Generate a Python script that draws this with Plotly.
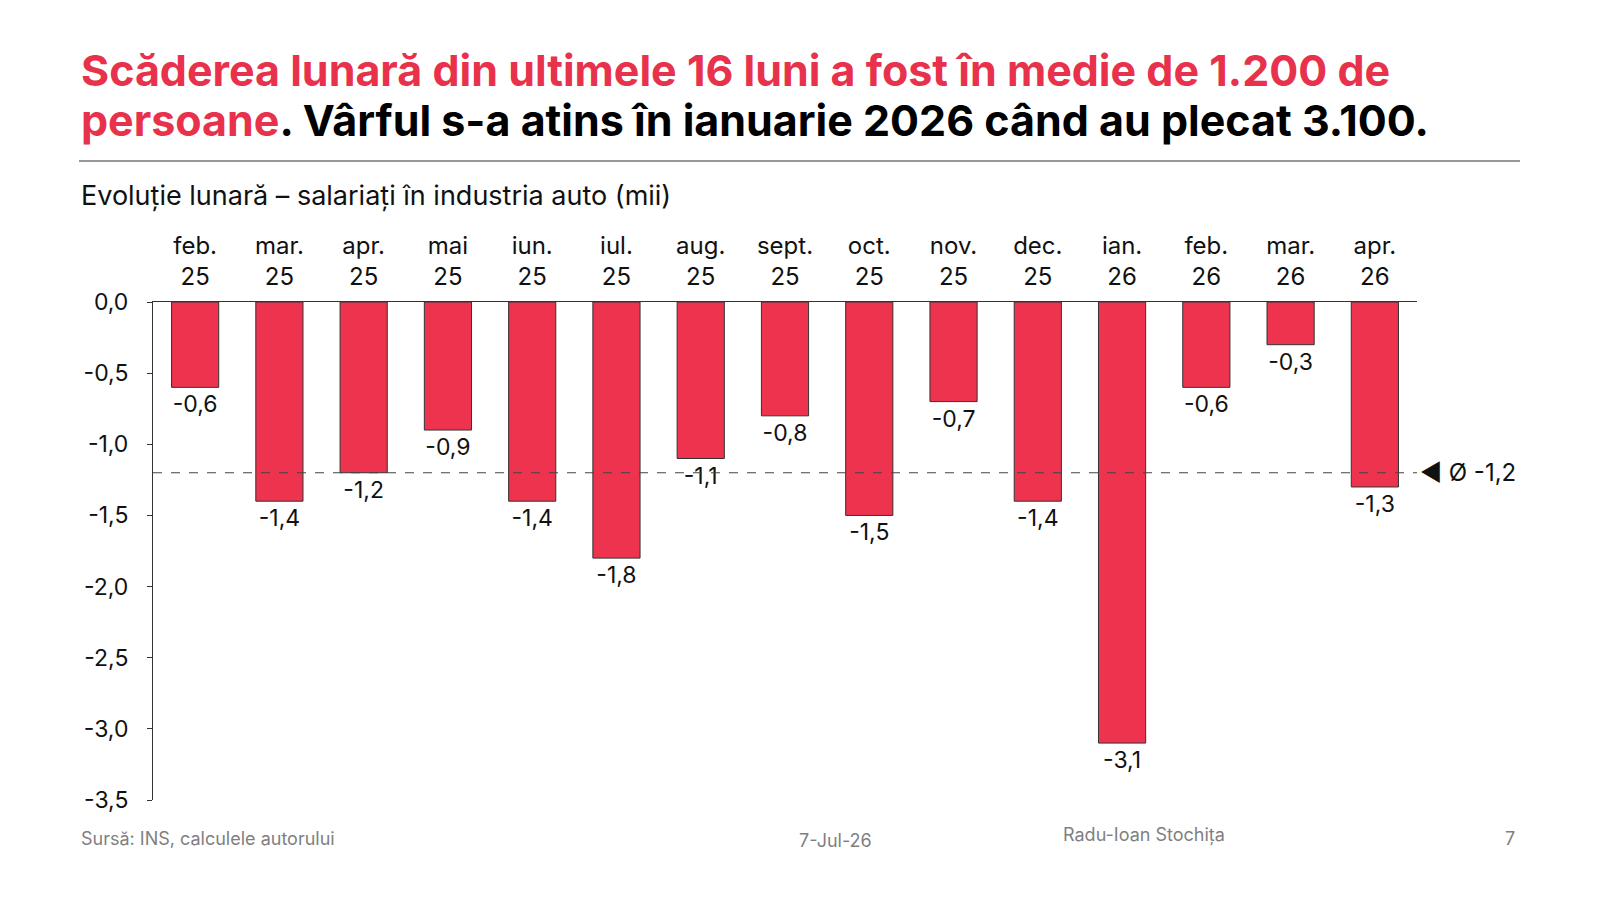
import plotly.graph_objects as go

# monthly change, auto industry employees (thousands)
months = ["feb.<br>25", "mar.<br>25", "apr.<br>25", "mai<br>25", "iun.<br>25", "iul.<br>25",
          "aug.<br>25", "sept.<br>25", "oct.<br>25", "nov.<br>25", "dec.<br>25", "ian.<br>26",
          "feb.<br>26", "mar.<br>26", "apr.<br>26"]
change = [-0.6, -1.4, -1.2, -0.9, -1.4, -1.8, -1.1, -0.8, -1.5, -0.7, -1.4, -3.1, -0.6, -0.3, -1.3]
avg = round(sum(change) / len(change), 1)

ytick_vals = [0, -0.5, -1, -1.5, -2, -2.5, -3, -3.5]
ytick_text = ["0,0", "-0,5", "-1,0", "-1,5", "-2,0", "-2,5", "-3,0", "-3,5"]

RED = "#EE334E"
FONT = "Inter"

# plot area in pixels (1600x900 page)
L, R, T, B = 145, 1409, 294, 792
W, H = R - L, B - T


def px(x):
    return (x - L) / W


def py(y):
    return (B - y) / H


fig = go.Figure(go.Bar(
    x=months, y=change, width=0.56,
    marker=dict(color=RED, line=dict(color="#333333", width=1)),
    text=[f"{v:.1f}".replace(".", ",") for v in change], textposition="outside", cliponaxis=False,
    textfont=dict(family=FONT, size=23, color="#111111"),
))

fig.add_shape(type="line", xref="paper", yref="y", x0=0, x1=1, y0=avg, y1=avg,
              line=dict(color="#444444", width=1.2, dash="dash"))
fig.add_shape(type="line", xref="paper", yref="paper", x0=px(71), x1=px(1512), y0=py(153), y1=py(153),
              line=dict(color="#333333", width=1.2))

title1 = '<span style="color:#E8324C">Scăderea lunară din ultimele 16 luni a fost în medie de 1.200 de</span>'
title2 = '<span style="color:#E8324C">persoane</span>. Vârful s-a atins în ianuarie 2026 când au plecat 3.100.'
GREY = "#7f7f7f"
notes = [
    dict(text=title1, x=px(71), y=py(62), xanchor="left", yanchor="middle",
         font=dict(family=FONT, size=43, color="#000000", weight=700)),
    dict(text=title2, x=px(71), y=py(112), xanchor="left", yanchor="middle",
         font=dict(family=FONT, size=43, color="#000000", weight=700)),
    dict(text="Evoluție lunară – salariați în industria auto (mii)", x=px(71), y=py(187),
         xanchor="left", yanchor="middle", font=dict(family=FONT, size=27, color="#111111")),
    dict(text="◀ Ø " + f"{avg:.1f}".replace(".", ","), xref="paper", yref="y", x=1, y=avg,
         xanchor="left", yanchor="middle", xshift=1, font=dict(family=FONT, size=24, color="#111111")),
    dict(text="Sursă: INS, calculele autorului", x=px(71), y=py(830), xanchor="left", yanchor="middle",
         font=dict(family=FONT, size=18, color=GREY)),
    dict(text="7-Jul-26", x=px(827), y=py(832), xanchor="center", yanchor="middle",
         font=dict(family=FONT, size=18, color=GREY)),
    dict(text="Radu-Ioan Stochița", x=px(1136), y=py(827), xanchor="center", yanchor="middle",
         font=dict(family=FONT, size=18, color=GREY)),
    dict(text="7", x=px(1509), y=py(830), xanchor="right", yanchor="middle",
         font=dict(family=FONT, size=18, color=GREY)),
]
for n in notes:
    n.setdefault("xref", "paper")
    n.setdefault("yref", "paper")
    n["showarrow"] = False
    fig.add_annotation(**n)

fig.update_layout(
    width=1600, height=900,
    margin=dict(l=L, r=1600 - R, t=T, b=900 - B, autoexpand=False),
    paper_bgcolor="white", plot_bgcolor="white",
    showlegend=False,
    font=dict(family=FONT, color="#111111"),
    xaxis=dict(side="top", type="category", showline=True, linecolor="#333333", linewidth=1,
               ticks="", showgrid=False, ticklabelstandoff=6,
               tickfont=dict(family=FONT, size=24, color="#111111")),
    yaxis=dict(range=[-3.5, 0], tickvals=ytick_vals, ticktext=ytick_text, showline=True,
               linecolor="#333333", linewidth=1, ticks="outside", ticklen=5, tickcolor="#333333",
               showgrid=False, zeroline=False, ticklabelstandoff=14,
               tickfont=dict(family=FONT, size=23, color="#111111")),
)

fig.write_html("out.html")
